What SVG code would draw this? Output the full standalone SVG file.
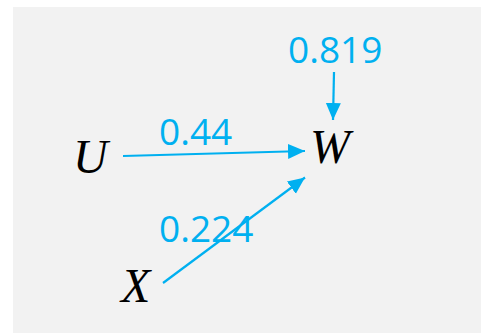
<svg xmlns="http://www.w3.org/2000/svg" width="481" height="333" viewBox="0 0 481 333">
<style>
.var{font-family:"Liberation Serif","Times New Roman",serif;font-style:italic;font-size:48px;fill:#000}
.lbl{font-family:"Open Sans","Noto Sans",sans-serif;font-size:37px;fill:#00B0F0}
.edge{stroke:#00B0F0;stroke-width:2.2;fill:none}
</style>
<defs>
<marker id="ah" markerUnits="userSpaceOnUse" markerWidth="18" markerHeight="16" refX="17" refY="7.5" orient="auto" viewBox="0 0 18 16">
<path d="M0,0 L17,7.5 L0,15 z" fill="#00B0F0"/>
</marker>
</defs>
<rect x="13" y="7" width="468" height="326" fill="#F2F2F2"/>
<g id="connectors">
<line class="edge" x1="123" y1="156" x2="305" y2="151" marker-end="url(#ah)"/>
<line class="edge" x1="163" y1="283" x2="305" y2="177.5" marker-end="url(#ah)"/>
<line class="edge" x1="334" y1="72" x2="333" y2="120" marker-end="url(#ah)"/>
</g>
<g id="lbl-uw"><text class="lbl" x="159" y="145">0.44</text></g>
<g id="lbl-xw"><text class="lbl" x="159" y="242">0.224</text></g>
<g id="lbl-w"><text class="lbl" x="288" y="63">0.819</text></g>
<g id="node-U"><text class="var" x="73" y="173">U</text></g>
<g id="node-W"><text class="var" x="310" y="163">W</text></g>
<g id="node-X"><text class="var" x="121" y="302">X</text></g>
</svg>
